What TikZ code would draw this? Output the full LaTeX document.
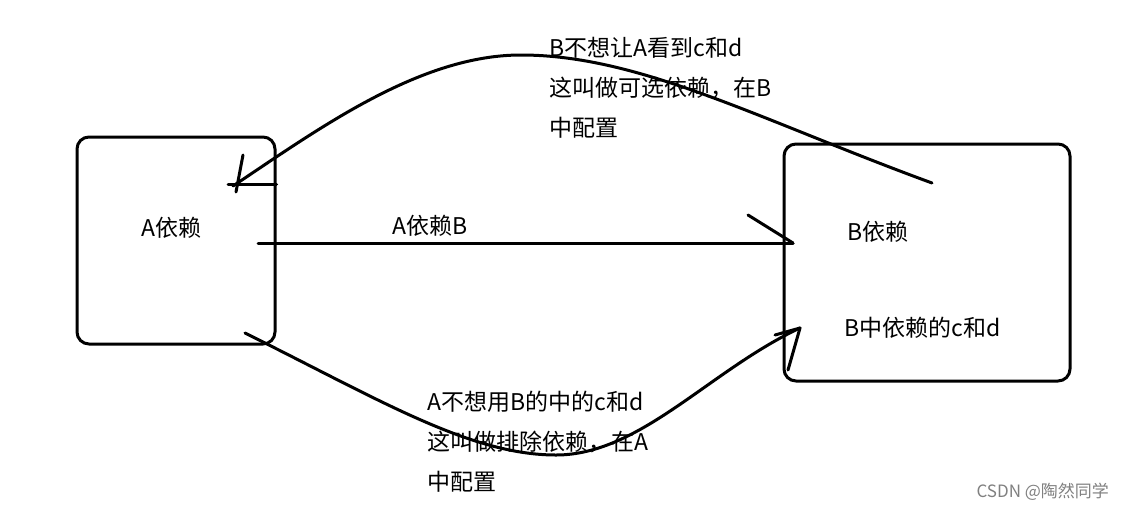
\documentclass[tikz,border=0pt]{standalone}
\usepackage{fontspec}
\setmainfont{Noto Sans CJK SC}
\usetikzlibrary{calc}

\begin{document}
\begin{tikzpicture}[x=0.5pt, y=-0.5pt, line width=1.5pt, line cap=round, line join=round,
    box/.style={draw=black, rounded corners=6pt, inner sep=0pt},
    txt/.style={anchor=north west, inner sep=0pt, align=left, font=\fontsize{11.5}{20}\selectfont},
    wmark/.style={anchor=north west, inner sep=0pt, text=black!50, font=\fontsize{8.5}{10}\selectfont}]
  \useasboundingbox (0,0) rectangle (1127,509);

  % the two boxes
  \node[box, minimum width=99pt, minimum height=103.5pt] (boxA) at (176,240.5) {};
  \node[box, minimum width=143pt, minimum height=118.5pt] (boxB) at (927,262.5) {};

  \node[txt] (labA) at (140,216) {A依赖};
  \node[txt] (labB) at (846,220) {B依赖};
  \node[txt] (labBcd) at (843,316) {B中依赖的c和d};

  % end points of the hand drawn arrows
  \coordinate (optTail) at (932,183);
  \coordinate (optTop) at (521,55);
  \coordinate (optTip) at (233,186);
  \coordinate (depTail) at (258,243);
  \coordinate (depTip) at (793,243);
  \coordinate (excTail) at (245,333);
  \coordinate (excLow) at (556,455);
  \coordinate (excTip) at (800,328);

  % optional dependency, B -> A
  \draw (optTail) .. controls (760,120) and (640,55) .. (optTop)
                  .. controls (420,55) and (320,128) .. (optTip);
  \draw (243,155) -- (236,192);
  \draw (228,184) -- (boxA.east |- 0,184);
  \node[txt] (optText) at (548,36) {B不想让A看到c和d\\这叫做可选依赖，在B\\中配置};

  % plain dependency, A -> B
  \draw (depTail) -- (depTip);
  \draw (748,215) -- (depTip);
  \node[txt] (depText) at (391,214) {A依赖B};

  % exclusion, A -> B
  \draw (excTail) .. controls (380,400) and (470,455) .. (excLow)
                  .. controls (640,455) and (710,370) .. (excTip);
  \draw (775,335) -- (excTip);
  \draw (788,370) -- (excTip);
  \node[txt] (excText) at (426,390) {A不想用B的中的c和d\\这叫做排除依赖，在A\\中配置};

  \node[wmark] (wm) at (975,482) {CSDN @陶然同学};
\end{tikzpicture}
\end{document}
